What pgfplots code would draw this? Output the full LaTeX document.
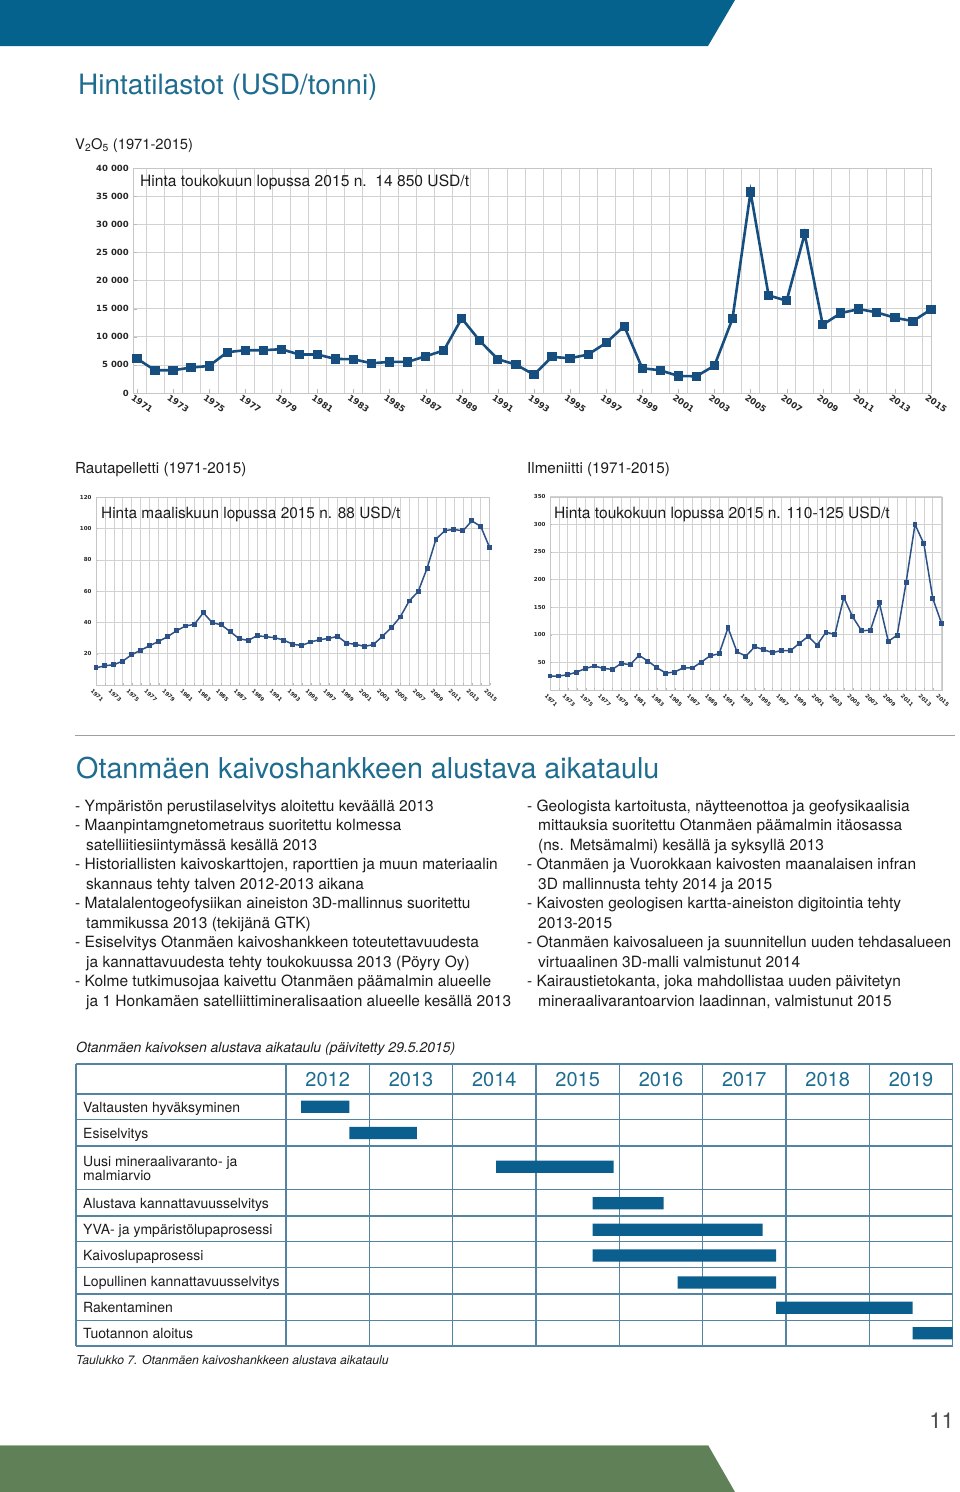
\documentclass[border=0pt]{standalone}
\usepackage{pgfplots}
\pgfplotsset{compat=1.18}
\usepackage{pgfplotstable}
\usepackage{fontspec}
\setmainfont{TeX Gyre Heros}
\newfontfamily\dv{DejaVu Sans}
\definecolor{hblue}{HTML}{05628C}
\definecolor{tteal}{HTML}{1E6C90}
\definecolor{vline}{HTML}{174E80}
\definecolor{sline}{HTML}{2C5186}
\definecolor{gblue}{HTML}{0B5F8E}
\definecolor{tline}{HTML}{5385A3}
\definecolor{fgreen}{HTML}{608058}
\definecolor{txt}{HTML}{1C1C1C}

\pgfplotstableread{
y s l
-1106.7 0.18 0.58
-1133.0 0.76 0.81
-1166.8 2.52 1.41
-1203.2 3.68 0.85
-1229.8 3.68 2.04
-1255.5 3.68 2.20
-1282.5 4.70 1.18
-1307.8 5.88 1.64
-1333.3 7.52 0.48
}\gantt

\pgfplotsset{
  pricechart/.style={scale only axis, anchor=south west, clip=false,
    scaled y ticks=false, scaled x ticks=false,
    axis line style={draw=gray!45}, tick style={draw=gray!55},
    grid style={draw=gray!35, line width=0.7pt},
    xtick pos=bottom, ytick pos=left,
    xticklabel={\pgfmathparse{int(round(\tick))}\pgfmathresult},
    yticklabel={\pgfmathparse{int(round(\tick))}\pgfmathresult},
    tick label style={text=black!85}},
}
\newcommand\body{\fontsize{15.5}{19.5}\selectfont}
\newcommand\tl[3]{\node[anchor=base west, inner sep=0, font=\body, text=txt] at (#1pt,-#2pt) {#3};}

\begin{document}
\begin{tikzpicture}
\useasboundingbox (0,0) rectangle (960pt,-1492pt);
% header and footer bands
\fill[hblue] (0,0) -- (735pt,0) -- (708pt,-46pt) -- (0,-46pt) -- cycle;
\fill[fgreen] (0,-1445pt) -- (708pt,-1445pt) -- (735pt,-1492pt) -- (0,-1492pt) -- cycle;
\draw[fgreen!60, line width=1pt] (0,-1445pt) -- (708pt,-1445pt);

\node[anchor=base west, inner sep=0, text=tteal, font=\fontsize{28}{32}\selectfont] at (78pt,-94pt) {Hintatilastot (USD/tonni)};
\node[anchor=base west, inner sep=0, text=txt, font=\fontsize{14.7}{17}\selectfont] at (75pt,-149pt) {V\textsubscript{2}O\textsubscript{5} (1971-2015)};

% ---------------- V2O5 chart
\begin{axis}[pricechart, at={(133.3pt,-393pt)}, width=797.7pt, height=225pt,
  xmin=1970.8, xmax=2015, ymin=0, ymax=40000,
  xtick={1971,1973,...,2015}, minor xtick={1971.5,1972.5,...,2014.5},
  xmajorgrids=false, xminorgrids=true, ymajorgrids=true,
  major tick length=4pt, minor tick length=0pt,
  ytick={0,5000,...,40000},
  yticklabels={0,{5 000},{10 000},{15 000},{20 000},{25 000},{30 000},{35 000},{40 000}},
  yticklabel style={font=\dv\bfseries\fontsize{8.5}{9}\selectfont, xshift=-1pt},
  xticklabel style={font=\dv\bfseries\fontsize{8.5}{9}\selectfont, rotate=-35, anchor=north west, xshift=-5pt, yshift=1pt},
]
\addplot[color=vline, line width=2.6pt, mark=square*, mark size=3.3pt, mark options={solid}] coordinates {
(1971,6120)(1972,4040)(1973,4040)(1974,4520)(1975,4810)(1976,7250)(1977,7610)(1978,7610)(1979,7790)(1980,6840)
(1981,6840)(1982,6060)(1983,6000)(1984,5290)(1985,5530)(1986,5530)(1987,6540)(1988,7550)(1989,13260)(1990,9270)
(1991,6000)(1992,5050)(1993,3270)(1994,6420)(1995,6180)(1996,6840)(1997,8920)(1998,11890)(1999,4400)(2000,4040)
(2001,3030)(2002,2970)(2003,4870)(2004,13200)(2005,35720)(2006,17360)(2007,16400)(2008,28290)(2009,12130)(2010,14210)
(2011,14920)(2012,14330)(2013,13370)(2014,12780)(2015,14860)};
\end{axis}
\node[anchor=base west, inner sep=0, text=txt, font=\fontsize{15.6}{17}\selectfont] at (140pt,-186pt) {Hinta toukokuun lopussa 2015 n.~~14 850 USD/t};

% ---------------- Rautapelletti
\node[anchor=base west, inner sep=0, text=txt, font=\fontsize{15.2}{17}\selectfont] at (75pt,-473pt) {Rautapelletti (1971-2015)};
\begin{axis}[pricechart, at={(96pt,-685pt)}, width=393.7pt, height=187.7pt,
  xmin=1971, xmax=2015, ymin=0, ymax=120,
  xtick={1971,1973,...,2015}, minor xtick={1972,1974,...,2014},
  xmajorgrids=true, xminorgrids=true, ymajorgrids=true,
  major tick length=2pt, minor tick length=2pt,
  ytick={20,40,...,120},
  yticklabel style={font=\dv\bfseries\fontsize{5.5}{6}\selectfont, xshift=-1pt},
  xticklabel style={font=\dv\bfseries\fontsize{5.5}{6}\selectfont, rotate=-45, anchor=north west, xshift=-3pt, yshift=-1pt},
]
\addplot[color=sline, line width=1.5pt, mark=square*, mark size=1.7pt] coordinates {
(1971,11.0)(1972,12.3)(1973,13.0)(1974,15.3)(1975,19.4)(1976,22.3)(1977,25.1)(1978,27.9)(1979,30.9)(1980,34.7)
(1981,37.7)(1982,38.8)(1983,46.2)(1984,39.8)(1985,38.5)(1986,34.1)(1987,29.6)(1988,28.5)(1989,31.5)(1990,30.9)
(1991,30.2)(1992,28.7)(1993,26.0)(1994,25.3)(1995,27.5)(1996,29.0)(1997,29.8)(1998,31.1)(1999,26.8)(2000,26.0)
(2001,24.7)(2002,25.8)(2003,31.1)(2004,36.6)(2005,43.5)(2006,53.7)(2007,59.7)(2008,74.6)(2009,93.3)(2010,98.7)
(2011,99.5)(2012,98.5)(2013,104.9)(2014,101.4)(2015,87.8)};
\end{axis}
\node[anchor=base west, inner sep=0, text=txt, font=\fontsize{15.4}{17}\selectfont] at (101pt,-518pt) {Hinta maaliskuun lopussa 2015 n. 88 USD/t};

% ---------------- Ilmeniitti
\node[anchor=base west, inner sep=0, text=txt, font=\fontsize{15.2}{17}\selectfont] at (527pt,-473pt) {Ilmeniitti (1971-2015)};
\begin{axis}[pricechart, at={(550pt,-690pt)}, width=391.7pt, height=193.3pt,
  xmin=1971, xmax=2015, ymin=0, ymax=350,
  xtick={1971,1973,...,2015}, minor xtick={1972,1974,...,2014},
  xmajorgrids=true, xminorgrids=true, ymajorgrids=true,
  major tick length=2pt, minor tick length=2pt,
  ytick={50,100,...,350},
  yticklabel style={font=\dv\bfseries\fontsize{5.5}{6}\selectfont, xshift=-1pt},
  xticklabel style={font=\dv\bfseries\fontsize{5.5}{6}\selectfont, rotate=-45, anchor=north west, xshift=-3pt, yshift=-1pt},
]
\addplot[color=sline, line width=1.5pt, mark=square*, mark size=1.7pt] coordinates {
(1971,25.3)(1972,25.3)(1973,27.7)(1974,32.5)(1975,39.2)(1976,43.4)(1977,39.2)(1978,37.3)(1979,48.2)(1980,45.8)
(1981,62.7)(1982,52.4)(1983,40.4)(1984,30.7)(1985,32.5)(1986,40.4)(1987,39.8)(1988,50.6)(1989,62.0)(1990,65.7)
(1991,112.7)(1992,69.3)(1993,61.4)(1994,78.3)(1995,72.9)(1996,67.5)(1997,71.7)(1998,71.1)(1999,84.3)(2000,97.0)
(2001,81.3)(2002,104.8)(2003,100.6)(2004,167.5)(2005,132.5)(2006,107.2)(2007,108.4)(2008,157.8)(2009,88.0)(2010,99.4)
(2011,194.6)(2012,300.0)(2013,264.5)(2014,165.7)(2015,119.9)};
\end{axis}
\node[anchor=base west, inner sep=0, text=txt, font=\fontsize{15.6}{17}\selectfont] at (554pt,-518pt) {Hinta toukokuun lopussa 2015 n. 110-125 USD/t};

% ---------------- rule and section title
\draw[gray!75, line width=1pt] (75pt,-735pt) -- (955pt,-735pt);
\node[anchor=base west, inner sep=0, text=tteal, font=\fontsize{28.7}{32}\selectfont] at (76pt,-778pt) {Otanmäen kaivoshankkeen alustava aikataulu};

% left column
\tl{75}{811}{- Ympäristön perustilaselvitys aloitettu keväällä 2013}
\tl{75}{830.5}{- Maanpintamgnetometraus suoritettu kolmessa}
\tl{86}{850}{satelliitiesiintymässä kesällä 2013}
\tl{75}{869.5}{- Historiallisten kaivoskarttojen, raporttien ja muun materiaalin}
\tl{86}{889}{skannaus tehty talven 2012-2013 aikana}
\tl{75}{908.5}{- Matalalentogeofysiikan aineiston 3D-mallinnus suoritettu}
\tl{86}{928}{tammikussa 2013 (tekijänä GTK)}
\tl{75}{947.5}{- Esiselvitys Otanmäen kaivoshankkeen toteutettavuudesta}
\tl{86}{967}{ja kannattavuudesta tehty toukokuussa 2013 (Pöyry Oy)}
\tl{75}{986.5}{- Kolme tutkimusojaa kaivettu Otanmäen päämalmin alueelle}
\tl{86}{1006}{ja 1 Honkamäen satelliittimineralisaation alueelle kesällä 2013}
% right column
\tl{527}{811}{- Geologista kartoitusta, näytteenottoa ja geofysikaalisia}
\tl{538}{830.5}{mittauksia suoritettu Otanmäen päämalmin itäosassa}
\tl{538}{850}{(ns. Metsämalmi) kesällä ja syksyllä 2013}
\tl{527}{869.5}{- Otanmäen ja Vuorokkaan kaivosten maanalaisen infran}
\tl{538}{889}{3D mallinnusta tehty 2014 ja 2015}
\tl{527}{908.5}{- Kaivosten geologisen kartta-aineiston digitointia tehty}
\tl{538}{928}{2013-2015}
\tl{527}{947.5}{- Otanmäen kaivosalueen ja suunnitellun uuden tehdasalueen}
\tl{538}{967}{virtuaalinen 3D-malli valmistunut 2014}
\tl{527}{986.5}{- Kairaustietokanta, joka mahdollistaa uuden päivitetyn}
\tl{538}{1006}{mineraalivarantoarvion laadinnan, valmistunut 2015}

% ---------------- Gantt table
\node[anchor=base west, inner sep=0, text=txt, font=\itshape\fontsize{14}{16}\selectfont] at (76pt,-1052pt) {Otanmäen kaivoksen alustava aikataulu (päivitetty 29.5.2015)};
\foreach \yy in {1064,1094,1119.3,1146,1189.3,1216,1241.7,1267.7,1294,1320.3,1346}
  \draw[tline, line width=1.1pt] (76pt,-\yy pt) -- (952.7pt,-\yy pt);
\foreach \xx in {76,286,369.3,452.7,536,619.3,702.7,786,869.3,952.7}
  \draw[tline, line width=1.1pt] (\xx pt,-1064pt) -- (\xx pt,-1346pt);
\foreach \xx/\yr in {327.7/2012,411/2013,494.3/2014,577.7/2015,661/2016,744.3/2017,827.7/2018,911/2019}
  \node[anchor=base, inner sep=0, text=tteal, font=\fontsize{20}{22}\selectfont] at (\xx pt,-1086pt) {\yr};
\foreach \yy/\lab in {1112/Valtausten hyväksyminen,1138/Esiselvitys,1166/Uusi mineraalivaranto- ja,1180/malmiarvio,1208/Alustava kannattavuusselvitys,1234/YVA- ja ympäristölupaprosessi,1260/Kaivoslupaprosessi,1286/Lopullinen kannattavuusselvitys,1312/Rakentaminen,1338/Tuotannon aloitus}
  \node[anchor=base west, inner sep=0, text=txt, font=\fontsize{14}{16}\selectfont] at (83pt,-\yy pt) {\lab};

\begin{axis}[at={(286pt,-1346pt)}, anchor=south west, scale only axis,
  width=666.7pt, height=282pt, xmin=0, xmax=8, ymin=-1346, ymax=-1064,
  hide axis, xbar stacked, bar width=12.3pt, clip=false]
\addplot[draw=none, fill=none, forget plot] table[x=s, y=y] {\gantt};
\addplot[fill=gblue, draw=none] table[x=l, y=y] {\gantt};
\end{axis}

\node[anchor=base west, inner sep=0, text=txt, font=\itshape\fontsize{12.2}{15}\selectfont] at (76pt,-1364.5pt) {Taulukko 7. Otanmäen kaivoshankkeen alustava aikataulu};

\node[anchor=base east, inner sep=0, text=black!70, font=\fontsize{22}{24}\selectfont] at (954pt,-1428pt) {11};
\end{tikzpicture}
\end{document}
